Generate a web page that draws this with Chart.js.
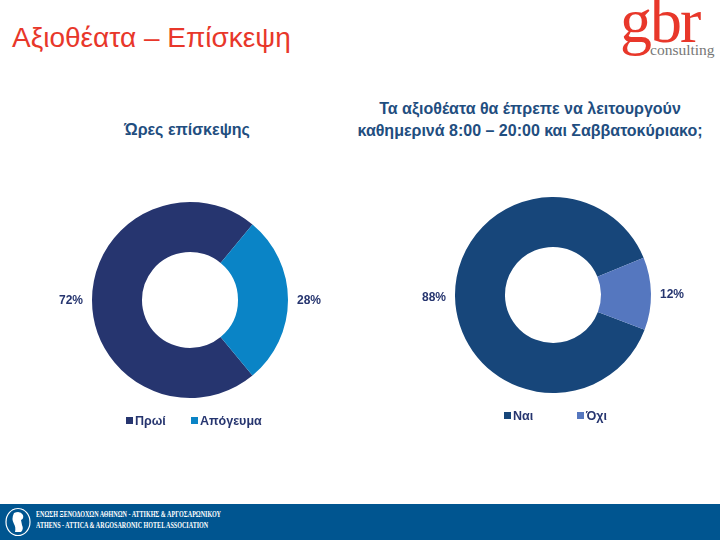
<!DOCTYPE html>
<html>
<head>
<meta charset="utf-8">
<script src="https://cdn.jsdelivr.net/npm/chart.js@4"></script>
<style>
  html,body{margin:0;padding:0;background:#fff;}
  #page{position:relative;width:720px;height:540px;overflow:hidden;font-family:"Liberation Sans",Arial,sans-serif;}
  .abs{position:absolute;white-space:nowrap;}
  #mainTitle{left:12px;top:22px;font-size:28px;color:#E8372A;}
  .sub{font-weight:bold;font-size:16px;color:#1F4E80;text-align:center;line-height:22px;}
  .leg{font-weight:bold;font-size:12.5px;color:#26356F;}
  .sq{display:inline-block;width:7px;height:7px;margin-right:2px;vertical-align:1px;}
  #footer{left:0;top:504px;width:720px;height:36px;background:#005590;}
  .ft{font-family:"Liberation Serif","DejaVu Serif",serif;color:#fff;font-size:7.6px;font-weight:bold;transform:scaleX(0.8);transform-origin:0 0;}
</style>
</head>
<body>
<div id="page">
  <div id="mainTitle" class="abs">Αξιοθέατα – Επίσκεψη</div>
  <div class="abs" style="left:620px;top:-16px;font-family:'Liberation Serif',serif;font-size:64px;color:#E8372A;letter-spacing:-2px;">gbr</div>
  <div class="abs" style="left:650px;top:41px;font-family:'Liberation Serif',serif;font-size:15.5px;color:#777;">consulting</div>

  <div class="abs sub" style="left:87px;top:119px;width:200px;" id="t1"></div>
  <div class="abs sub" style="left:330px;top:98px;width:400px;" id="t2"></div>

  <div class="abs" style="left:40px;top:180px;width:300px;height:240px;"><canvas id="c1" width="300" height="240"></canvas></div>
  <div class="abs" style="left:403px;top:175px;width:300px;height:240px;"><canvas id="c2" width="300" height="240"></canvas></div>

  <div class="abs leg" style="left:126px;top:414px;" id="l1a"></div>
  <div class="abs leg" style="left:191px;top:414px;" id="l1b"></div>
  <div class="abs leg" style="left:504px;top:409px;" id="l2a"></div>
  <div class="abs leg" style="left:577px;top:409px;" id="l2b"></div>

  <div id="footer" class="abs">
    <svg class="abs" style="left:4px;top:3px;" width="28" height="30" viewBox="0 0 28 30">
      <ellipse cx="14" cy="15" rx="12" ry="13.5" fill="none" stroke="#fff" stroke-width="1.2"/>
      <path d="M10 6 Q16 3 19 8 Q20 12 17 13 L18 18 Q20 22 17 25 L11 25 Q12 20 10 17 Q7 12 10 6Z" fill="#fff"/>
    </svg>
    <div class="abs ft" style="left:36px;top:6px;">ΕΝΩΣΗ ΞΕΝΟΔΟΧΩΝ ΑΘΗΝΩΝ - ΑΤΤΙΚΗΣ &amp; ΑΡΓΟΣΑΡΩΝΙΚΟΥ</div>
    <div class="abs ft" style="left:36px;top:17px;">ATHENS - ATTICA &amp; ARGOSARONIC HOTEL ASSOCIATION</div>
  </div>
</div>
<script>
// ---- data ----
const title1 = "Ώρες επίσκεψης";
const categories1 = ["Πρωί", "Απόγευμα"];
const values1 = [72, 28];
const colors1 = ["#26356F", "#0A84C6"];

const title2 = ["Τα αξιοθέατα θα έπρεπε να λειτουργούν", "καθημερινά 8:00 – 20:00 και Σαββατοκύριακο;"];
const categories2 = ["Ναι", "Όχι"];
const values2 = [88, 12];
const colors2 = ["#17467A", "#5577BF"];

document.getElementById('t1').textContent = title1;
document.getElementById('t2').innerHTML = title2.join('<br>');

function legendItem(id, color, text){
  const el = document.getElementById(id);
  el.innerHTML = '<span class="sq" style="background:' + color + '"></span>' + text;
}
legendItem('l1a', colors1[0], categories1[0]);
legendItem('l1b', colors1[1], categories1[1]);
legendItem('l2a', colors2[0], categories2[0]);
legendItem('l2b', colors2[1], categories2[1]);

const pctLabels = {
  id: 'pctLabels',
  afterDatasetsDraw(chart){
    const ctx = chart.ctx;
    const meta = chart.getDatasetMeta(0);
    ctx.save();
    ctx.font = 'bold 12px "Liberation Sans", Arial, sans-serif';
    ctx.fillStyle = '#26356F';
    ctx.textAlign = 'center';
    ctx.textBaseline = 'middle';
    meta.data.forEach((arc, i) => {
      const mid = (arc.startAngle + arc.endAngle) / 2;
      const r = arc.outerRadius + 21;
      const x = arc.x + Math.cos(mid) * r;
      const y = arc.y + Math.sin(mid) * r + 1;
      ctx.fillText(chart.data.datasets[0].data[i] + '%', x, y);
    });
    ctx.restore();
  }
};

function makeDonut(id, labels, data, colors, rotation){
  new Chart(document.getElementById(id), {
    type: 'doughnut',
    data: { labels: labels, datasets: [{ data: data, backgroundColor: colors, borderWidth: 0, radius: 98, cutout: '49%' }] },
    options: {
      responsive: false,
      animation: false,
      rotation: rotation,
      layout: { padding: 0 },
      plugins: { legend: { display: false }, tooltip: { enabled: false } }
    },
    plugins: [pctLabels]
  });
}
makeDonut('c1', categories1, values1, colors1, 140.4);
makeDonut('c2', categories2, values2, colors2, 110.8);
</script>
</body>
</html>
